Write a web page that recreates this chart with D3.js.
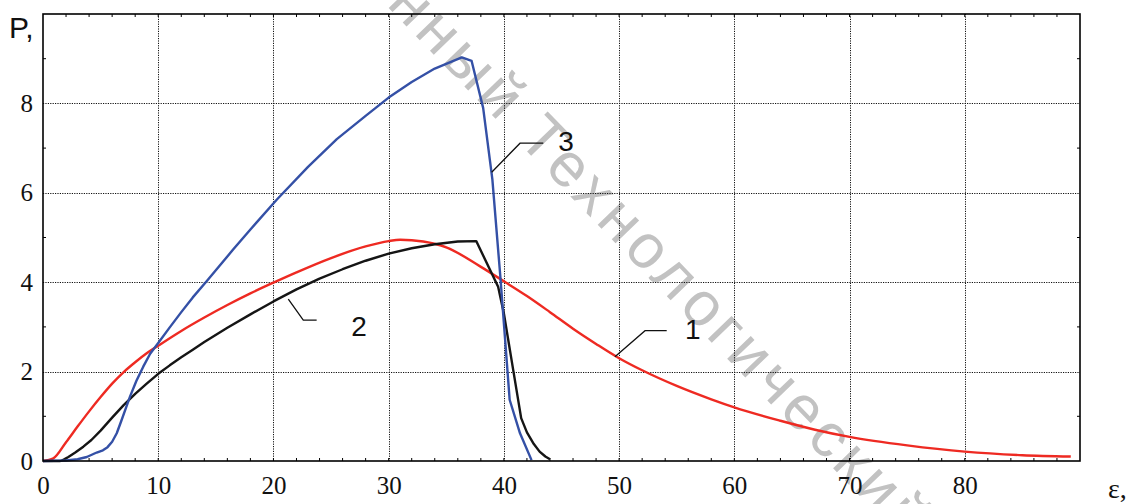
<!DOCTYPE html>
<html><head><meta charset="utf-8">
<script src="https://cdn.jsdelivr.net/npm/d3@7"></script>
<style>html,body{margin:0;padding:0;background:#fff;}svg{display:block;}</style>
</head><body>
<svg id="chart" width="1130" height="504"></svg>
<script>
// ---- data ----
const xDomain = [0, 90];
const yDomain = [0, 10];
const xTickValues = [0, 10, 20, 30, 40, 50, 60, 70, 80];
const yTickValues = [0, 2, 4, 6, 8];
const xMinorTicks = d3.range(2, 90, 2);
const yMinorTicks = [1, 3, 5, 7, 9];

// curve 1 (red)
const curve1 = [[0,0],[0.9,0.06],[2,0.42],[3,0.77],[4,1.11],[5,1.43],[6,1.73],[7,1.99],[8,2.21],[9,2.41],[10,2.58],[12,2.91],[14,3.21],[16,3.49],[18,3.75],[20,3.99],[22,4.22],[25,4.54],[28,4.8],[30,4.92],[31,4.95],[33,4.91],[35,4.78],[37.9,4.36],[40,4.02],[42,3.69],[44,3.33],[46,2.96],[48,2.62],[50,2.3],[52,2.03],[55,1.68],[58,1.38],[60,1.2],[64,0.9],[67,0.7],[70,0.54],[75,0.35],[80,0.21],[85,0.13],[89.2,0.1]];
// curve 2 (black)
const curve2 = [[0,0],[1.5,0],[1.8,0.03],[2.2,0.09],[2.8,0.19],[3.5,0.32],[4.2,0.47],[5,0.68],[6,0.97],[7,1.25],[8,1.5],[9,1.73],[10,1.95],[11,2.14],[12,2.32],[13,2.49],[14,2.66],[16,2.98],[18,3.28],[20,3.57],[22,3.84],[24,4.08],[26,4.29],[28,4.48],[30,4.64],[32,4.76],[34,4.85],[36,4.91],[37.6,4.92],[39.5,3.9],[40,3.3],[40.8,2.05],[41.5,0.96],[42,0.64],[42.6,0.38],[43.1,0.21],[43.6,0.1],[44,0.04]];
// curve 3 (blue)
const curve3 = [[0,0],[2,0.01],[3,0.04],[3.8,0.09],[4.66,0.19],[5.2,0.24],[5.6,0.31],[6.0,0.43],[6.4,0.62],[6.8,0.9],[7.2,1.19],[7.55,1.44],[8.1,1.79],[8.7,2.11],[9.3,2.4],[10,2.64],[11,2.99],[12,3.33],[13,3.66],[14.2,4.02],[16.5,4.73],[18,5.18],[20.3,5.85],[23,6.58],[25.5,7.2],[28,7.72],[30,8.13],[32,8.48],[34,8.78],[36.35,9.03],[37.2,8.95],[38.2,7.9],[39.0,6.3],[39.7,4.1],[40.5,1.37],[41.4,0.62],[42.4,0.02]];

// curve label callouts: [start on curve, bend, end], label position
const callouts = [
  {label:"1", pts:[[49.64,2.33],[52.25,2.915],[54.13,2.915]], at:[56.4,2.95]},
  {label:"2", pts:[[21.29,3.62],[22.59,3.15],[23.75,3.15]], at:[27.43,3.02]},
  {label:"3", pts:[[38.94,6.46],[41.4,7.11],[43.42,7.11]], at:[45.39,7.14]}
];

// ---- drawing ----
const svg = d3.select("#chart");
const x = d3.scaleLinear().domain(xDomain).range([43, 1080]);
const y = d3.scaleLinear().domain(yDomain).range([461, 14]);

const serif = "'Liberation Serif','Times New Roman','DejaVu Serif',serif";
const sans = "'Liberation Sans',Arial,sans-serif";

// watermark (behind everything)
const wmAngle = 46, wmStart = [516, 140];
const rad = wmAngle * Math.PI / 180;
const wm = svg.append("g").attr("fill", "#c2c2c2").attr("font-family", sans)
  .attr("font-size", 62).attr("letter-spacing", 5);
wm.append("text")
  .attr("transform", `translate(${wmStart[0] - 20 * Math.cos(rad)},${wmStart[1] - 20 * Math.sin(rad)}) rotate(${wmAngle})`)
  .attr("text-anchor", "end").text("государственный");
wm.append("text").attr("transform", `translate(${wmStart[0]},${wmStart[1]}) rotate(${wmAngle})`)
  .text("Технологический университет");

// grid
const grid = svg.append("g").attr("stroke", "#111").attr("stroke-width", 1).attr("stroke-dasharray", "1.2,1.2");
grid.selectAll("line.gx").data(xTickValues.filter(v => v > xDomain[0])).join("line")
  .attr("x1", d => Math.round(x(d)) + 0.5).attr("x2", d => Math.round(x(d)) + 0.5)
  .attr("y1", y(yDomain[1])).attr("y2", y(yDomain[0]));
grid.selectAll("line.gy").data(yTickValues.filter(v => v > yDomain[0])).join("line")
  .attr("y1", d => Math.round(y(d)) + 0.5).attr("y2", d => Math.round(y(d)) + 0.5)
  .attr("x1", x(xDomain[0])).attr("x2", x(xDomain[1]));

// minor ticks
const tl = 3;
const ticks = svg.append("g").attr("stroke", "#000").attr("stroke-width", 1);
ticks.selectAll("line.bt").data(xMinorTicks).join("line")
  .attr("x1", d => x(d)).attr("x2", d => x(d)).attr("y1", y(0)).attr("y2", y(0) - tl);
ticks.selectAll("line.tt").data(xMinorTicks).join("line")
  .attr("x1", d => x(d)).attr("x2", d => x(d)).attr("y1", y(10)).attr("y2", y(10) + tl);
ticks.selectAll("line.lt").data(yMinorTicks).join("line")
  .attr("y1", d => y(d)).attr("y2", d => y(d)).attr("x1", x(0)).attr("x2", x(0) + tl);
ticks.selectAll("line.rt").data(yMinorTicks).join("line")
  .attr("y1", d => y(d)).attr("y2", d => y(d)).attr("x1", x(90)).attr("x2", x(90) - tl);

// curves
const line = d3.line().x(d => x(d[0])).y(d => y(d[1]));
const smooth = d3.line().x(d => x(d[0])).y(d => y(d[1])).curve(d3.curveMonotoneX);
svg.append("path").datum(curve1).attr("d", smooth).attr("fill", "none")
  .attr("stroke", "#ee2a22").attr("stroke-width", 2.4).attr("stroke-linejoin", "round");
svg.append("path").datum(curve2).attr("d", line).attr("fill", "none")
  .attr("stroke", "#151515").attr("stroke-width", 2.4).attr("stroke-linejoin", "round");
svg.append("path").datum(curve3).attr("d", line).attr("fill", "none")
  .attr("stroke", "#3450a6").attr("stroke-width", 2.4).attr("stroke-linejoin", "round");

// frame
svg.append("rect").attr("x", x(0)).attr("y", y(10))
  .attr("width", x(90) - x(0)).attr("height", y(0) - y(10))
  .attr("fill", "none").attr("stroke", "#000").attr("stroke-width", 1.6);

// axes labels via d3 axes (no tick lines)
const xAxis = d3.axisBottom(x).tickValues(xTickValues).tickSize(0).tickPadding(15).tickFormat(d3.format("d"));
const gx = svg.append("g").attr("transform", `translate(0,${y(0)})`)
  .attr("font-family", serif).attr("font-size", 25).call(xAxis);
gx.select(".domain").remove();
gx.selectAll("text").style("font-family", serif).style("font-size", "25px").attr("fill", "#111");

const yAxis = d3.axisLeft(y).tickValues(yTickValues).tickSize(0).tickPadding(10).tickFormat(d3.format("d"));
const gy = svg.append("g").attr("transform", `translate(${x(0)},0)`)
  .attr("font-family", serif).attr("font-size", 25).call(yAxis);
gy.select(".domain").remove();
gy.selectAll("text").style("font-family", serif).style("font-size", "25px").attr("fill", "#111");

// axis titles
svg.append("text").attr("x", 9).attr("y", 38).attr("font-family", sans).attr("font-size", 30)
  .attr("fill", "#111").text("P,");
svg.append("text").attr("x", 1108).attr("y", 498).style("font-family", serif).attr("font-size", 28)
  .attr("fill", "#111").text("ε,");

// callouts
const co = svg.append("g");
callouts.forEach(c => {
  co.append("path").datum(c.pts).attr("d", line).attr("fill", "none")
    .attr("stroke", "#111").attr("stroke-width", 1.3);
  co.append("text").attr("x", x(c.at[0])).attr("y", y(c.at[1]))
    .attr("text-anchor", "middle").attr("dominant-baseline", "central")
    .attr("font-family", sans).attr("font-size", 28).attr("fill", "#111").text(c.label);
});
</script>
</body></html>
